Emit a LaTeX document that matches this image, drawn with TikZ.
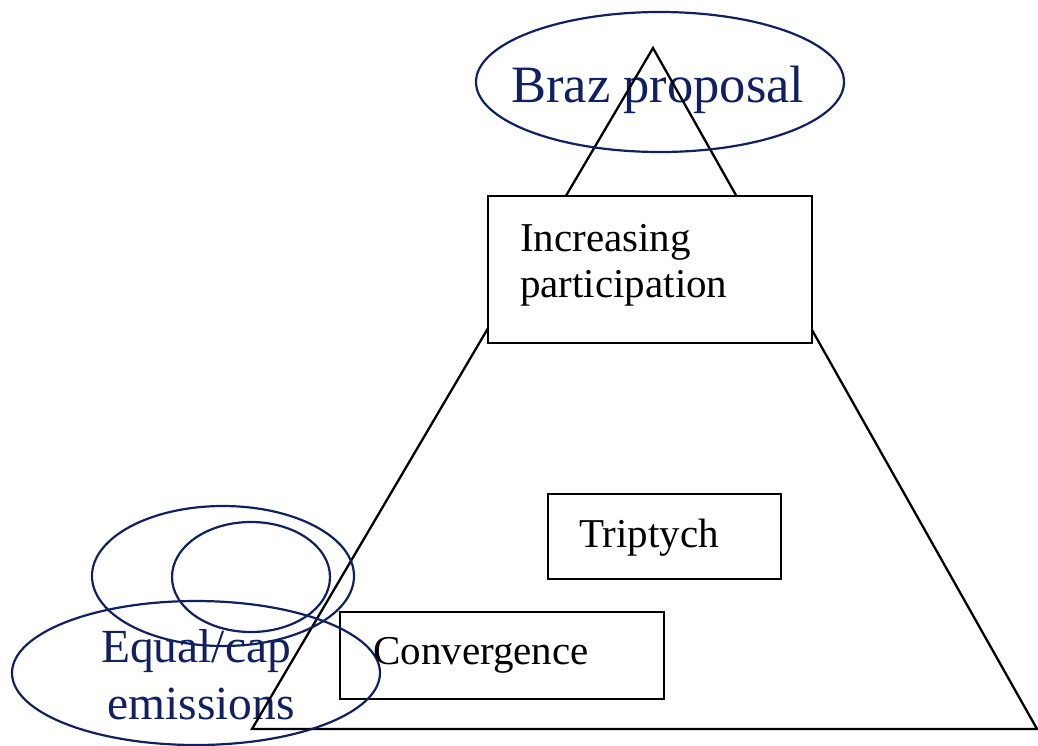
\documentclass[tikz,border=0pt]{standalone}
\usepackage{fontspec}
\setmainfont{Liberation Serif}
\definecolor{navy}{HTML}{102060}
\tikzset{
  edge/.style={draw=black, line width=2.3pt, line join=miter},
  boxstyle/.style={draw=black, line width=2.3pt, fill=white},
  oval/.style={draw=navy, line width=2.2pt},
  boxtext/.style={font=\fontsize{41}{46}\selectfont, text=black, inner sep=0pt, anchor=base west, align=left},
  ovaltext/.style={text=navy, inner sep=0pt, align=center},
}
\begin{document}
\begin{tikzpicture}[x=1pt,y=-1pt]
\useasboundingbox (0,0) rectangle (1038,745);
% oval texts (under the pyramid lines)
\node[ovaltext, font=\fontsize{52.5}{60}\selectfont, anchor=base] (braz) at (658,102) {Braz proposal};
\node[ovaltext, font=\fontsize{47.5}{57}\selectfont, anchor=base] (eq) at (196,662) {Equal/cap};
\node[ovaltext, font=\fontsize{47.5}{57}\selectfont, anchor=base] (em) at (201,719) {emissions};
% pyramid
\coordinate (apex) at (653,48);
\coordinate (bl) at (252,729);
\coordinate (br) at (1037,729);
\draw[edge] (apex) -- (bl) -- (br) -- cycle;
% boxes
\path[boxstyle] (488,196) rectangle (812,343);
\path[boxstyle] (548,494) rectangle (781,579);
\path[boxstyle] (340,612) rectangle (664,699);
% ovals
\draw[oval] (660,82) ellipse [x radius=184, y radius=70];
\draw[oval] (223,576) ellipse [x radius=131, y radius=70];
\draw[oval] (251,577) ellipse [x radius=79, y radius=55];
\draw[oval] (196,673) ellipse [x radius=184, y radius=72];
% box texts
\node[boxtext] (inc) at (520,297) {Increasing\\participation};
\node[boxtext] (tri) at (579,547) {Triptych};
\node[boxtext] (conv) at (373,664) {Convergence};
\end{tikzpicture}
\end{document}
